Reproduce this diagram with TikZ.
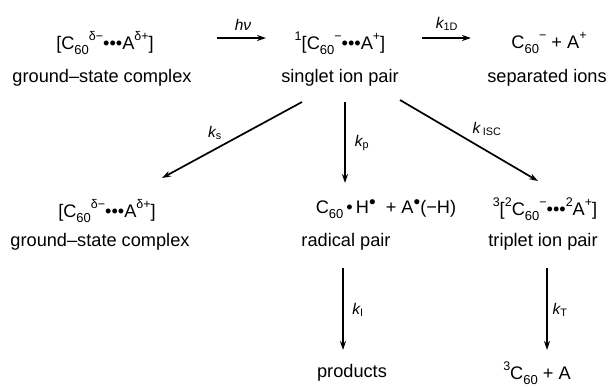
\documentclass[tikz,border=0pt]{standalone}
\usepackage{fontspec}
\setmainfont{Liberation Sans}
\usetikzlibrary{arrows.meta}
\newcommand\myup[1]{\raisebox{0.5em}{\fontsize{12.5}{13}\selectfont #1}}
\newcommand\mydn[1]{\raisebox{-0.28em}{\fontsize{13}{13}\selectfont #1}}
\newcommand\raddot{\raisebox{0.3em}{\fontsize{19}{19}\selectfont •}}
\begin{document}
\begin{tikzpicture}[x=1pt,y=-1pt,
  txt/.style={inner sep=0pt,font=\fontsize{18.2}{21}\selectfont},
  klab/.style={inner sep=0pt,font=\fontsize{15.5}{18}\selectfont\itshape},
  arr/.style={line width=1.7pt,-{Stealth[length=9pt,width=6pt]}}]
\useasboundingbox (0,0) rectangle (610,386);
% top row
\node[txt] (gs1) at (105,43) {[C\mydn{60}\myup{δ−}•••A\myup{δ+}]};
\node[txt] (gs1l) at (102,78) {ground–state complex};
\node[txt] (sip) at (340,43) {\myup{1}[C\mydn{60}\myup{−}•••A\myup{+}]};
\node[txt] (sipl) at (340,78) {singlet ion pair};
\node[txt] (sep) at (549,43) {C\mydn{60}\myup{−} + A\myup{+}};
\node[txt] (sepl) at (547,78) {separated ions};
% second row
\node[txt] (gs2) at (107,211) {[C\mydn{60}\myup{δ−}•••A\myup{δ+}]};
\node[txt] (gs2l) at (100,242) {ground–state complex};
\node[txt] (rp) at (386,209) {C\mydn{60}\,•\,H\raddot\ \ + A\raddot(−H)};
\node[txt] (rpl) at (346,242) {radical pair};
\node[txt] (tip) at (545,209) {\myup{3}[\myup{2}C\mydn{60}\myup{−}•••\myup{2}A\myup{+}]};
\node[txt] (tipl) at (543,242) {triplet ion pair};
% third row
\node[txt] (prod) at (352,373) {products};
\node[txt] (tc) at (537,373) {\myup{3}C\mydn{60} + A};
% arrow end points
\coordinate (hA) at (217,38); \coordinate (hB) at (266,38);
\coordinate (dA) at (422,38); \coordinate (dB) at (471,38);
\coordinate (sA) at (302,102); \coordinate (sB) at (162,178);
\coordinate (pA) at (345,102); \coordinate (pB) at (345,183);
\coordinate (iA) at (400,100); \coordinate (iB) at (538,181);
\coordinate (lA) at (343,268); \coordinate (lB) at (343,350);
\coordinate (tA) at (547,268); \coordinate (tB) at (547,350);
\draw[arr] (hA) -- (hB);
\draw[arr] (dA) -- (dB);
\draw[arr] (sA) -- (sB);
\draw[arr] (pA) -- (pB);
\draw[arr] (iA) -- (iB);
\draw[arr] (lA) -- (lB);
\draw[arr] (tA) -- (tB);
% rate labels
\node[klab] (hv) at (243,25) {hν};
\node[klab] (k1d) at (447,24) {k\textsubscript{\upshape 1D}};
\node[klab] (ks) at (215,133) {k\textsubscript{\upshape s}};
\node[klab] (kp) at (362,143) {k\textsubscript{\upshape p}};
\node[klab] (kisc) at (487,129) {k\,\textsubscript{\upshape ISC}};
\node[klab] (ki) at (358,310) {k\textsubscript{\upshape I}};
\node[klab] (kt) at (560,310) {k\textsubscript{\upshape T}};
\end{tikzpicture}
\end{document}
